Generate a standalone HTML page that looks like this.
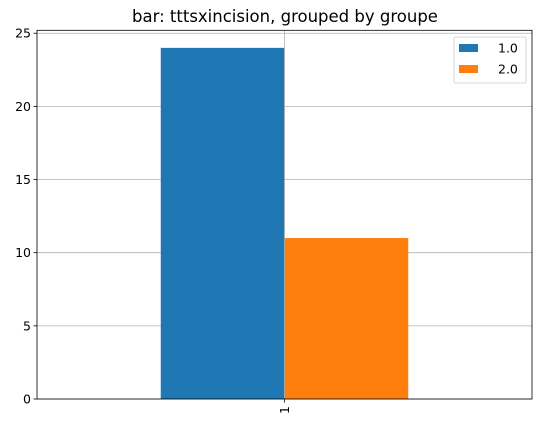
<!DOCTYPE html>
<html><head><meta charset="utf-8"><style>body{margin:0;background:#fff}svg{display:block}text{font-family:"DejaVu Sans","Liberation Sans",sans-serif}</style></head>
<body>
<svg id="chart" width="546" height="428">
<text x="285" y="22" font-size="16.5" text-anchor="middle" fill="#000">bar: tttsxincision, grouped by groupe</text>
<g id="grid"></g><g id="bars"></g><g id="axes"></g><g id="legend"></g>
</svg>
<script>
const categories = ["1"];
const seriesNames = ["1.0", "2.0"];
const seriesValues = [[24], [11]];
const seriesColors = ["#1f77b4", "#ff7f0e"];
const yTicks = [0, 5, 10, 15, 20, 25];

const L = 37, R = 532, T = 30.3, B = 399, yMax = 25.2;
const NS = 'http://www.w3.org/2000/svg';
function y(v){ return B - v / yMax * (B - T); }
function xc(i){ return L + (i + 0.5) / categories.length * (R - L); }
function mk(tag, attrs, parent){ const e = document.createElementNS(NS, tag); for (const k in attrs) e.setAttribute(k, attrs[k]); document.getElementById(parent).appendChild(e); return e; }

yTicks.forEach(t => {
  const g = mk('line', {x1:L, x2:R, y1:y(t), y2:y(t), stroke:'#b0b0b0', 'stroke-width':0.8}, 'grid');
  
  
  const tk = mk('line', {x1:L-3.5, x2:L, y1:y(t), y2:y(t), stroke:'#000', 'stroke-width':0.8}, 'axes');
  
  
  const lb = mk('text', {x:L-6, y:y(t)+4.5, 'font-size':12.5, 'text-anchor':'end'}, 'axes');
  lb.textContent = t;
  
  
});

const groupW = (R - L) / categories.length * 0.5;
const barW = groupW / seriesNames.length;
categories.forEach((c, i) => {
  seriesValues.forEach((vals, s) => {
    const x0 = xc(i) - groupW / 2 + s * barW;
    const r = mk('rect', {x:x0, y:y(vals[i]), width:barW, height:B - y(vals[i]), fill:seriesColors[s]}, 'bars');
    
    
  });
  const g = mk('line', {x1:xc(i), x2:xc(i), y1:T, y2:B, stroke:'#b0b0b0', 'stroke-width':0.8}, 'bars');
  
  
  const tk = mk('line', {x1:xc(i), x2:xc(i), y1:B, y2:B+3.5, stroke:'#000', 'stroke-width':0.8}, 'axes');
  
  
  const lb = mk('text', {x:0, y:0, 'font-size':12.5, 'text-anchor':'end', transform:'translate(' + (xc(i)+4.5) + ',' + (B+7) + ') rotate(-90)'}, 'axes');
  lb.textContent = c;
  
  
});

const frame = mk('rect', {x:L, y:T, width:R-L, height:B-T, fill:'none', stroke:'#000', 'stroke-width':0.8}, 'axes');



const lbox = mk('rect', {x:454, y:37, width:72, height:46, rx:2, fill:'#fff', 'fill-opacity':0.8, stroke:'#ccc', 'stroke-width':0.8}, 'legend');


seriesNames.forEach((n, s) => {
  const yy = 44 + s * 21;
  const p = mk('rect', {x:459, y:yy, width:19, height:8, fill:seriesColors[s]}, 'legend');
  
  
  const t = mk('text', {x:498, y:yy+8.5, 'font-size':12.5}, 'legend');
  t.textContent = n;
  
  
});
</script>
</body></html>
